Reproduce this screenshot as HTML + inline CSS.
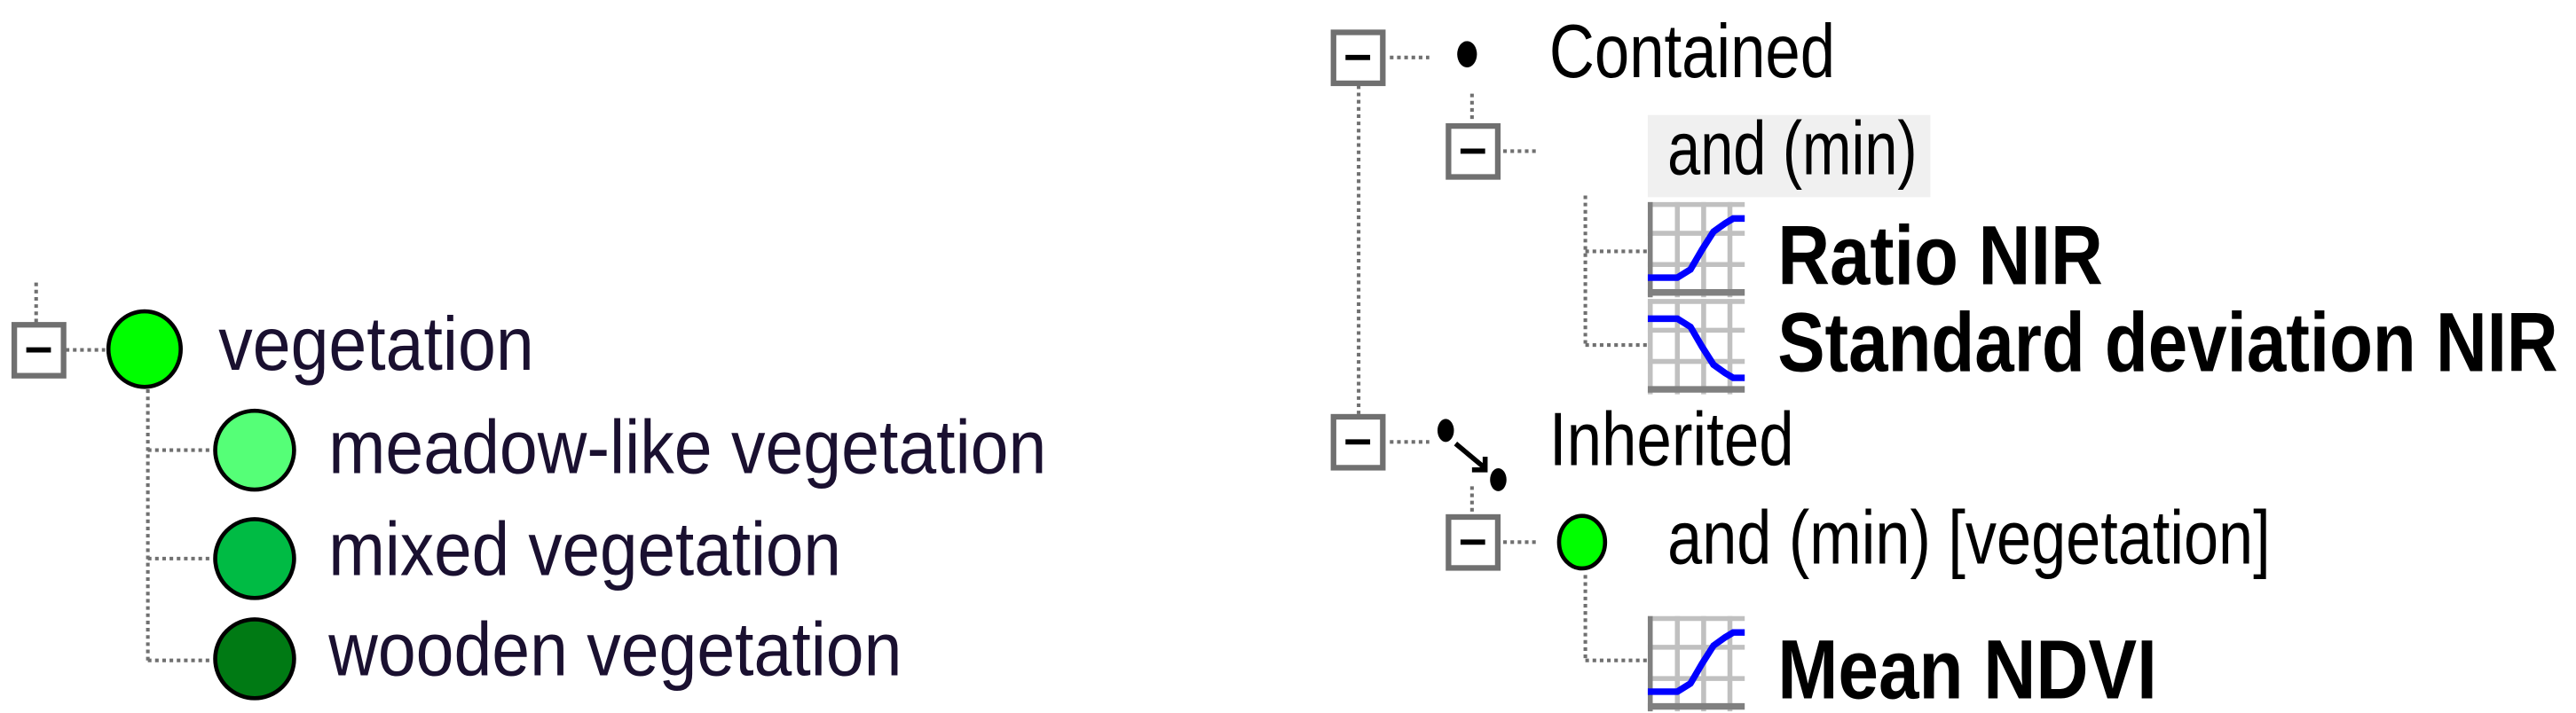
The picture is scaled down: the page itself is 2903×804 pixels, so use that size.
<!DOCTYPE html>
<html><head><meta charset="utf-8"><style>
html,body{margin:0;padding:0;background:#fff;}
svg{display:block;}
</style></head><body>
<svg width="2903" height="804" viewBox="0 0 1568 434" preserveAspectRatio="none" xmlns="http://www.w3.org/2000/svg">
<defs>
<g id="box">
<rect x="1.7" y="1.7" width="30" height="31" fill="#fff" stroke="#707070" stroke-width="3.4"/>
<line x1="9" y1="17" x2="24" y2="17" stroke="#000" stroke-width="3.2"/>
</g>
<g id="up">
<rect x="0" y="0" width="59" height="58" fill="#fff"/>
<g stroke="#c0c0c0" stroke-width="3">
<line x1="0" y1="1.5" x2="59" y2="1.5"/>
<line x1="0" y1="19" x2="59" y2="19"/>
<line x1="0" y1="38" x2="59" y2="38"/>
<line x1="18" y1="0" x2="18" y2="58"/>
<line x1="34" y1="0" x2="34" y2="58"/>
<line x1="50" y1="0" x2="50" y2="58"/>
</g>
<line x1="1.5" y1="0" x2="1.5" y2="58" stroke="#808080" stroke-width="3"/>
<line x1="0" y1="55" x2="59" y2="55" stroke="#808080" stroke-width="4"/>
<polyline points="0,46 18,46 26,41 33,29 40,18 47,13 52,10 59,10" fill="none" stroke="#0000ff" stroke-width="4"/>
</g>
<g id="down">
<rect x="0" y="0" width="59" height="58" fill="#fff"/>
<g stroke="#c0c0c0" stroke-width="3">
<line x1="0" y1="1.5" x2="59" y2="1.5"/>
<line x1="0" y1="19" x2="59" y2="19"/>
<line x1="0" y1="38" x2="59" y2="38"/>
<line x1="1.5" y1="0" x2="1.5" y2="58"/>
<line x1="18" y1="0" x2="18" y2="58"/>
<line x1="34" y1="0" x2="34" y2="58"/>
<line x1="50" y1="0" x2="50" y2="58"/>
</g>
<line x1="0" y1="55" x2="59" y2="55" stroke="#808080" stroke-width="4"/>
<polyline points="0,12 18,12 26,17 33,29 40,40 47,45 52,48 59,48" fill="none" stroke="#0000ff" stroke-width="4"/>
</g>
</defs>

<g stroke="#707070" stroke-width="2.2" stroke-dasharray="2.2 2.2" fill="none">
<line x1="22" y1="172" x2="22" y2="197"/>
<line x1="40" y1="213" x2="64" y2="213"/>
<line x1="90" y1="237" x2="90" y2="402"/>
<line x1="90" y1="274" x2="129" y2="274"/>
<line x1="90" y1="340" x2="129" y2="340"/>
<line x1="90" y1="402" x2="129" y2="402"/>
<line x1="846" y1="35" x2="870" y2="35"/>
<line x1="827" y1="52" x2="827" y2="252"/>
<line x1="896" y1="57" x2="896" y2="74"/>
<line x1="915" y1="92" x2="936" y2="92"/>
<line x1="965" y1="119" x2="965" y2="210"/>
<line x1="965" y1="153" x2="1003" y2="153"/>
<line x1="965" y1="210" x2="1003" y2="210"/>
<line x1="846" y1="269" x2="870" y2="269"/>
<line x1="896" y1="296" x2="896" y2="312"/>
<line x1="915" y1="330" x2="936" y2="330"/>
<line x1="965" y1="350" x2="965" y2="402"/>
<line x1="965" y1="402" x2="1003" y2="402"/>
</g>

<use href="#box" x="7" y="196"/>
<ellipse cx="88" cy="212.5" rx="22" ry="23" fill="#00ff00" stroke="#000" stroke-width="2.5"/>
<ellipse cx="155" cy="274" rx="24" ry="24" fill="#55ff77" stroke="#000" stroke-width="2.5"/>
<ellipse cx="155" cy="340" rx="24" ry="24" fill="#00bb44" stroke="#000" stroke-width="2.5"/>
<ellipse cx="155" cy="401" rx="24" ry="24" fill="#007a14" stroke="#000" stroke-width="2.5"/>
<g font-family="Liberation Sans, sans-serif" font-size="46" fill="#1a1030">
<text x="133" y="225" textLength="192" lengthAdjust="spacingAndGlyphs">vegetation</text>
<text x="200" y="288" textLength="437" lengthAdjust="spacingAndGlyphs">meadow-like vegetation</text>
<text x="200" y="350" textLength="312" lengthAdjust="spacingAndGlyphs">mixed vegetation</text>
<text x="200" y="411" textLength="349" lengthAdjust="spacingAndGlyphs">wooden vegetation</text>
</g>

<use href="#box" x="810" y="18"/>
<ellipse cx="893" cy="33" rx="6" ry="8" fill="#000"/>
<rect x="1003" y="70" width="172" height="50" fill="#f0f0f0"/>
<use href="#box" x="880" y="75"/>
<use href="#up" x="1003" y="123"/>
<use href="#down" x="1003" y="182"/>
<use href="#box" x="810" y="252"/>
<ellipse cx="880" cy="262" rx="5" ry="7" fill="#000"/>
<line x1="886" y1="270" x2="904" y2="285" stroke="#000" stroke-width="3"/>
<polyline points="896,286 904,286 904,278" fill="none" stroke="#000" stroke-width="3"/>
<ellipse cx="912" cy="292" rx="5" ry="7" fill="#000"/>
<use href="#box" x="880" y="313"/>
<ellipse cx="963" cy="330" rx="14" ry="16" fill="#00ff00" stroke="#000" stroke-width="2.5"/>
<use href="#up" x="1003" y="375"/>

<g font-family="Liberation Sans, sans-serif" font-size="46" fill="#000">
<text x="943" y="47" textLength="174" lengthAdjust="spacingAndGlyphs">Contained</text>
<text x="1015" y="106" textLength="152" lengthAdjust="spacingAndGlyphs">and (min)</text>
<text x="943" y="283" textLength="149" lengthAdjust="spacingAndGlyphs">Inherited</text>
<text x="1015" y="343" textLength="367" lengthAdjust="spacingAndGlyphs">and (min) [vegetation]</text>
</g>
<g font-family="Liberation Sans, sans-serif" font-weight="bold" font-size="51" fill="#000">
<text x="1082" y="173" textLength="198" lengthAdjust="spacingAndGlyphs">Ratio NIR</text>
<text x="1082" y="226" textLength="475" lengthAdjust="spacingAndGlyphs">Standard deviation NIR</text>
<text x="1082" y="425" textLength="231" lengthAdjust="spacingAndGlyphs">Mean NDVI</text>
</g>
</svg>
</body></html>
